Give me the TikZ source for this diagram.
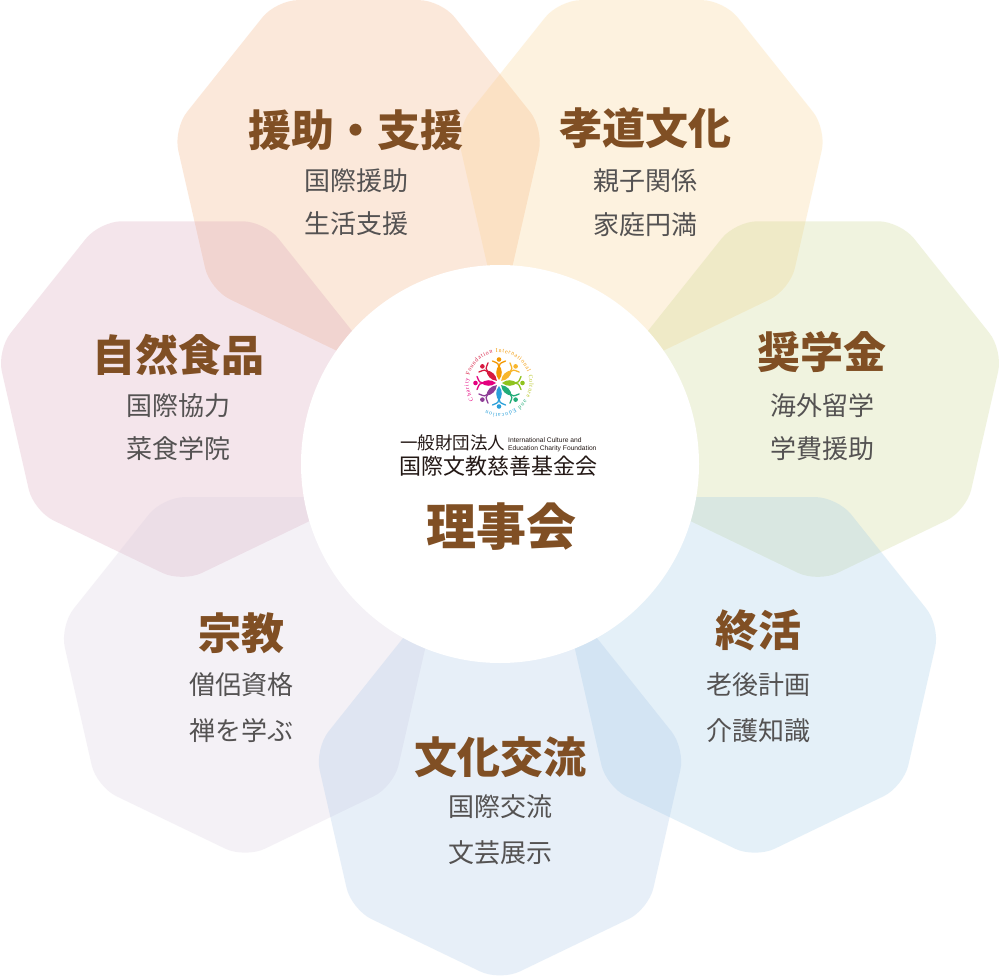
\documentclass[tikz,border=0pt]{standalone}
\usepackage{fontspec}
\usetikzlibrary{decorations.text}
\newfontfamily\cjk{Noto Sans CJK JP}
\newfontfamily\lsans{Liberation Sans}
\newfontfamily\lserif{Liberation Serif}
\newcommand\ringfont{\lserif\fontsize{5.9}{7}\selectfont}
% heptagon base colours (drawn at 25% opacity)
\definecolor{hA}{RGB}{243,167,111}
\definecolor{hB}{RGB}{251,207,131}
\definecolor{hC}{RGB}{215,155,179}
\definecolor{hD}{RGB}{199,211,131}
\definecolor{hE}{RGB}{215,203,223}
\definecolor{hF}{RGB}{151,199,231}
\definecolor{hG}{RGB}{163,195,231}
\definecolor{tbrown}{RGB}{128,79,36}
\definecolor{sgray}{RGB}{84,82,82}
\definecolor{ink}{RGB}{35,24,21}
% emblem colours
\definecolor{eO}{RGB}{243,152,0}
\definecolor{eY}{RGB}{248,182,45}
\definecolor{eG}{RGB}{143,195,31}
\definecolor{eT}{RGB}{34,172,120}
\definecolor{eB}{RGB}{41,160,218}
\definecolor{eP}{RGB}{142,62,151}
\definecolor{eM}{RGB}{228,0,127}
\definecolor{eR}{RGB}{215,25,63}
\definecolor{eYG}{RGB}{180,196,30}
\begin{document}
\begin{tikzpicture}[x=1pt,y=1pt,
  hep/.style={fill opacity=0.25, rounded corners=22pt},
  ttl/.style={font=\cjk\fontsize{43}{43}\selectfont\bfseries, text=tbrown, inner sep=0pt},
  sub/.style={font=\cjk\fontsize{26}{26}\selectfont, text=sgray, inner sep=0pt},
  board/.style={circle, fill=white, minimum size=398pt, inner sep=0pt},
  arm/.style={line width=1.3pt, line cap=round}]
\useasboundingbox (0,0) rectangle (1000,-976);
\fill[white] (0,0) rectangle (1000,-976);
\coordinate (ctr) at (500,-465);
% seven heptagons
\foreach \ang/\col in {115.71/hA, 64.29/hB, 167.14/hC, 12.86/hD, 218.57/hE, 321.43/hF, 270/hG} {
  \path (ctr) ++(\ang:326) coordinate (p-\col);
  \fill[hep, fill=\col] (p-\col) +(90:171.18) -- +(115.71:190) -- +(167.14:190)
     -- +(218.57:190) -- +(270:190) -- +(321.43:190) -- +(12.86:190)
     -- +(64.29:190) -- cycle;
}
% central disc
\node[board] (board) at (500,-464) {};
% titles and items
\node[ttl] (tA) at (356,-130) {援助・支援};
\node[sub] (sA1) at (356,-181) {国際援助};
\node[sub] (sA2) at (356,-224) {生活支援};
\node[ttl] (tB) at (645,-128) {孝道文化};
\node[sub] (sB1) at (645,-181) {親子関係};
\node[sub] (sB2) at (645,-225) {家庭円満};
\node[ttl] (tC) at (178,-355) {自然食品};
\node[sub] (sC1) at (178,-406) {国際協力};
\node[sub] (sC2) at (178,-449) {菜食学院};
\node[ttl] (tD) at (822,-352) {奨学金};
\node[sub] (sD1) at (822,-406) {海外留学};
\node[sub] (sD2) at (822,-449) {学費援助};
\node[ttl] (tE) at (241,-633) {宗教};
\node[sub] (sE1) at (241,-685) {僧侶資格};
\node[sub] (sE2) at (241,-731) {禅を学ぶ};
\node[ttl] (tF) at (758,-630) {終活};
\node[sub] (sF1) at (758,-685) {老後計画};
\node[sub] (sF2) at (758,-731) {介護知識};
\node[ttl] (tG) at (500,-757) {文化交流};
\node[sub] (sG1) at (500,-807) {国際交流};
\node[sub] (sG2) at (500,-853) {文芸展示};
% emblem
\begin{scope}[shift={(499,-383)}]
  \foreach \a/\c in {90/eO, 45/eY, 0/eG, -45/eT, -90/eB, -135/eP, 180/eM, 135/eR} {
    \begin{scope}[rotate=\a]
      \fill[\c] (3,0) .. controls (8,4.2) and (14,3.2) .. (18,0) .. controls (14,-3.2) and (8,-4.2) .. (3,0) -- cycle;
      \draw[\c, arm] (16,0) .. controls (19.5,0.5) .. (22,6.5);
      \draw[\c, arm] (16,0) .. controls (19.5,-0.5) .. (22,-6.5);
      \fill[\c] (23.5,0) circle (2.3);
    \end{scope}
  }
  \path[decorate, decoration={text along path, text align=fit to path,
     text={|\ringfont\color{eM}|Charity |\ringfont\color{eR}|Foundation |\ringfont\color{eO}|International |\ringfont\color{eYG}|Culture |\ringfont\color{eT}|and |\ringfont\color{eB}|Education}}]
     (214:30.5) arc[start angle=214, end angle=-115, radius=30.5];
\end{scope}
\node[font=\cjk\fontsize{17.5}{17.5}\selectfont, text=ink, inner sep=0pt] (org1) at (452.5,-443) {一般財団法人};
\node[font=\lsans\fontsize{6.7}{8.2}\selectfont, text=ink, inner sep=0pt, anchor=west, align=left] (orgen) at (508,-445) {International Culture and\\Education Charity Foundation};
\node[font=\cjk\fontsize{22}{22}\selectfont, text=ink, inner sep=0pt] (org2) at (498.5,-466) {国際文教慈善基金会};
\node[font=\cjk\fontsize{50}{50}\selectfont\bfseries, text=tbrown, inner sep=0pt] (board-title) at (501,-527) {理事会};
\end{tikzpicture}
\end{document}
